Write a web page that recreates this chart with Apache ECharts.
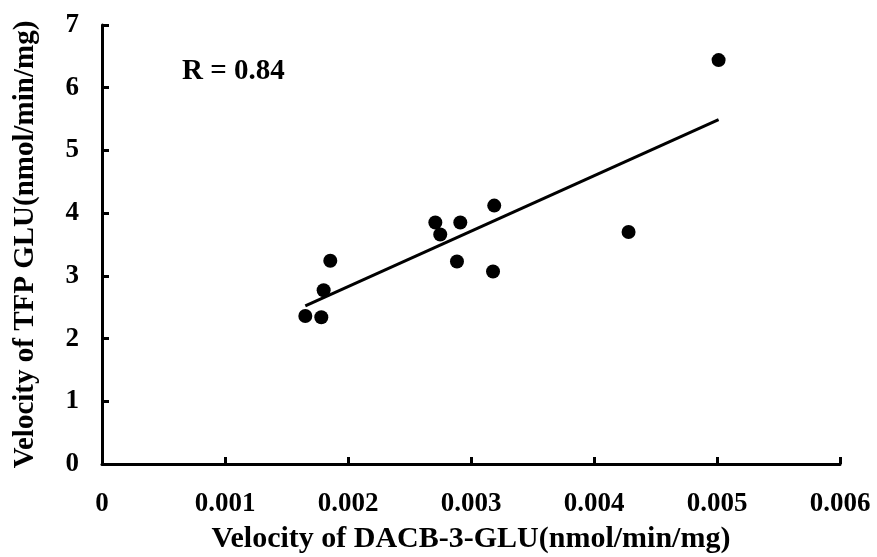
<!DOCTYPE html>
<html>
<head>
<meta charset="utf-8">
<script src="https://cdn.jsdelivr.net/npm/echarts@6/dist/echarts.min.js"></script>
<style>
  html, body { margin: 0; padding: 0; background: #fff; }
  #chart { width: 877px; height: 557px; }
</style>
</head>
<body>
<div id="chart"></div>
<script>
const myChart = echarts.init(document.getElementById('chart'), null, { renderer: 'canvas' })

// velocity pairs
const dacbVelocity = [0.001653, 0.001783, 0.001802, 0.001856, 0.00271, 0.00275, 0.002913, 0.002886, 0.003189, 0.003179, 0.004281, 0.005013]
const tfpVelocity = [2.36, 2.34, 2.77, 3.24, 3.85, 3.66, 3.85, 3.23, 4.12, 3.07, 3.70, 6.44]
const trendX = [0.001653, 0.005013]
const trendY = [2.52, 5.49]
const rLabel = 'R = 0.84'

const font = 'Liberation Serif, Times New Roman, serif'

let option = {
	animation: false,
	title: {
		text: rLabel,
		left: 182,
		top: 57,
		padding: 0,
		textStyle: { fontFamily: font, fontWeight: 'bold', fontSize: 29, color: '#000' },
	},
	grid: { left: 102, right: 37, top: 25, bottom: 93, containLabel: false, outerBoundsMode: 'none' },
	xAxis: {
		type: 'value',
		min: 0,
		max: 0.006,
		interval: 0.001,
		name: 'Velocity of DACB-3-GLU(nmol/min/mg)',
		nameLocation: 'middle',
		nameGap: 60,
		nameTextStyle: { fontFamily: font, fontWeight: 'bold', fontSize: 30, color: '#000' },
		axisLine: { lineStyle: { color: '#000', width: 3 } },
		axisTick: { show: true, inside: true, length: 7, lineStyle: { color: '#000', width: 3 } },
		axisLabel: {
			margin: 27,
			fontFamily: font,
			fontWeight: 'bold',
			fontSize: 27,
			color: '#000',
			formatter: (v) => (v === 0 ? '0' : v.toFixed(3)),
		},
		splitLine: { show: false },
	},
	yAxis: {
		type: 'value',
		min: 0,
		max: 7,
		interval: 1,
		name: 'Velocity of TFP GLU(nmol/min/mg)',
		nameLocation: 'middle',
		nameGap: 62,
		nameTextStyle: { fontFamily: font, fontWeight: 'bold', fontSize: 29, color: '#000' },
		axisLine: { lineStyle: { color: '#000', width: 3 } },
		axisTick: { show: true, inside: true, length: 7, lineStyle: { color: '#000', width: 3 } },
		axisLabel: { margin: 23, fontFamily: font, fontWeight: 'bold', fontSize: 27, color: '#000' },
		splitLine: { show: false },
	},
	series: [
		{
			name: 'points',
			type: 'scatter',
			symbolSize: 14,
			itemStyle: { color: '#000', opacity: 1 },
			data: dacbVelocity.map((x, i) => [x, tfpVelocity[i]]),
		},
		{
			name: 'trend',
			type: 'line',
			symbol: 'none',
			lineStyle: { color: '#000', width: 3 },
			data: trendX.map((x, i) => [x, trendY[i]]),
		},
	],
}
myChart.setOption(option)

window.addEventListener('resize', () => {
	myChart.resize()
})
</script>
</body>
</html>
